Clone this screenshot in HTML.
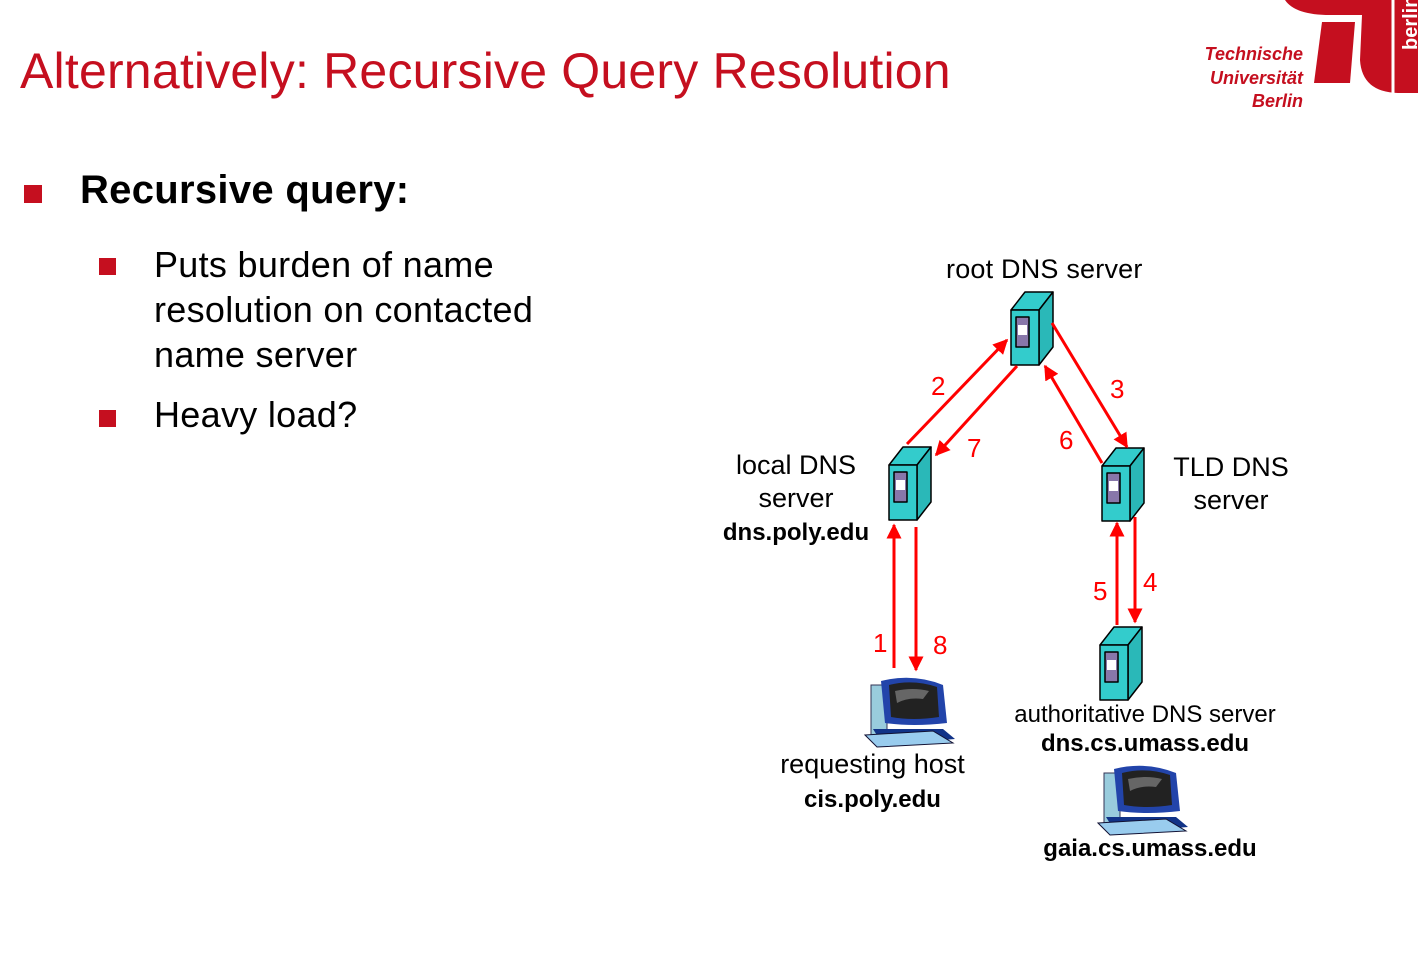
<!DOCTYPE html>
<html><head><meta charset="utf-8"><style>
body{margin:0;width:1418px;height:974px;background:#fff;overflow:hidden;position:relative;font-family:"Liberation Sans",sans-serif}
.t{position:absolute;white-space:nowrap}
</style></head><body>
<div class="t" style="left:20px;top:42px;font-size:50px;color:#c50f1f;letter-spacing:0.2px">Alternatively: Recursive Query Resolution</div>
<div class="t" style="left:1195px;top:43px;font-size:18px;color:#c50f1f;font-weight:bold;text-align:right;width:108px;line-height:23.5px;font-style:italic">Technische<br>Universität<br>Berlin</div>
<svg style="position:absolute;left:0;top:0" width="1418" height="974">
<path d="M1285 0 L1418 0 L1418 93 L1400 93 Q1362 93 1360 60 L1362 15 L1330 15 Q1295 15 1285 0 Z" fill="#c50f1f"/>
<path d="M1322 22 L1355 22 L1350 83 L1314 83 Z" fill="#c50f1f"/>
<line x1="1393" y1="0" x2="1393" y2="93" stroke="#fff" stroke-width="3"/>
<text x="1417" y="50" transform="rotate(-90 1417 50)" fill="#fff" font-size="20" font-weight="bold" font-family="Liberation Sans">berlin</text>
<rect x="24" y="185" width="18" height="18" fill="#c50f1f"/>
<rect x="99" y="258" width="17" height="17" fill="#c50f1f"/>
<rect x="99" y="410" width="17" height="17" fill="#c50f1f"/>
<defs>
<g id="srv" stroke="#000" stroke-width="1.5" stroke-linejoin="round">
<path d="M0 18 L14 0 L42 0 L28 18 Z" fill="#33cccc"/>
<path d="M28 18 L42 0 L42 55 L28 73 Z" fill="#2ab8b8"/>
<rect x="0" y="18" width="28" height="55" fill="#33cccc"/>
<rect x="5" y="25" width="13" height="30" fill="#8877aa"/>
<rect x="7" y="33" width="9" height="10" fill="#fff" stroke="none"/>
</g>
<g id="pc">
<rect x="8" y="8" width="16" height="50" fill="#99ccdd" stroke="#335" stroke-width="1"/>
<path d="M18 4 Q50 -4 80 8 L84 46 Q50 50 22 46 Z" fill="#2244aa"/>
<path d="M26 8 Q50 2 74 10 L76 40 Q50 44 28 40 Z" fill="#222"/>
<path d="M32 14 Q50 10 66 14 L60 22 Q45 20 34 26 Z" fill="#666"/>
<path d="M10 52 L80 52 L92 62 L20 68 Z" fill="#113388"/>
<path d="M2 58 L70 54 L90 66 L14 70 Z" fill="#99ccee" stroke="#113" stroke-width="1"/>
</g>
<marker id="a" viewBox="0 0 10 10" refX="9" refY="5" markerWidth="5" markerHeight="5" orient="auto"><path d="M0 0 L10 5 L0 10 Z" fill="red"/></marker>
</defs>
<use href="#srv" x="1011" y="292"/>
<use href="#srv" x="889" y="447"/>
<use href="#srv" x="1102" y="448"/>
<use href="#srv" x="1100" y="627"/>
<use href="#pc" x="863" y="677"/>
<use href="#pc" x="1096" y="765"/>
<g stroke="red" stroke-width="3" marker-end="url(#a)">
<line x1="907" y1="444" x2="1007" y2="340"/>
<line x1="1017" y1="366" x2="936" y2="455"/>
<line x1="1052" y1="323" x2="1127" y2="447"/>
<line x1="1102" y1="463" x2="1045" y2="366"/>
<line x1="894" y1="668" x2="894" y2="525"/>
<line x1="916" y1="527" x2="916" y2="670"/>
<line x1="1117" y1="625" x2="1117" y2="523"/>
<line x1="1135" y1="517" x2="1135" y2="622"/>
</g>
<g fill="red" font-size="26" font-family="Liberation Sans">
<text x="931" y="395">2</text><text x="967" y="457">7</text><text x="1110" y="398">3</text><text x="1059" y="449">6</text>
<text x="873" y="652">1</text><text x="933" y="654">8</text><text x="1093" y="600">5</text><text x="1143" y="591">4</text>
</g>
</svg>
<div class="t" style="left:80px;top:168px;font-size:40px;font-weight:bold;letter-spacing:0.3px">Recursive query:</div>
<div class="t" style="left:154px;top:242px;font-size:36px;line-height:45px;letter-spacing:0.3px">Puts burden of name<br>resolution on contacted<br>name server</div>
<div class="t" style="left:154px;top:394px;font-size:36px;letter-spacing:0.3px">Heavy load?</div>
<div class="t" style="left:946px;top:254px;font-size:27px;letter-spacing:0.2px">root DNS server</div>
<div class="t" style="left:700px;top:449px;width:192px;text-align:center;font-size:27px;line-height:33px">local DNS<br>server<br><b style="font-size:24px">dns.poly.edu</b></div>
<div class="t" style="left:1172px;top:451px;width:118px;text-align:center;font-size:27px;line-height:33px">TLD DNS<br>server</div>
<div class="t" style="left:995px;top:700px;width:300px;text-align:center;font-size:24px;line-height:29px">authoritative DNS server<br><b>dns.cs.umass.edu</b></div>
<div class="t" style="left:760px;top:747px;width:225px;text-align:center;font-size:27px;line-height:34px">requesting host<br><b style="font-size:24px">cis.poly.edu</b></div>
<div class="t" style="left:1020px;top:835px;width:260px;text-align:center;font-size:24px;font-weight:bold">gaia.cs.umass.edu</div>
</body></html>
